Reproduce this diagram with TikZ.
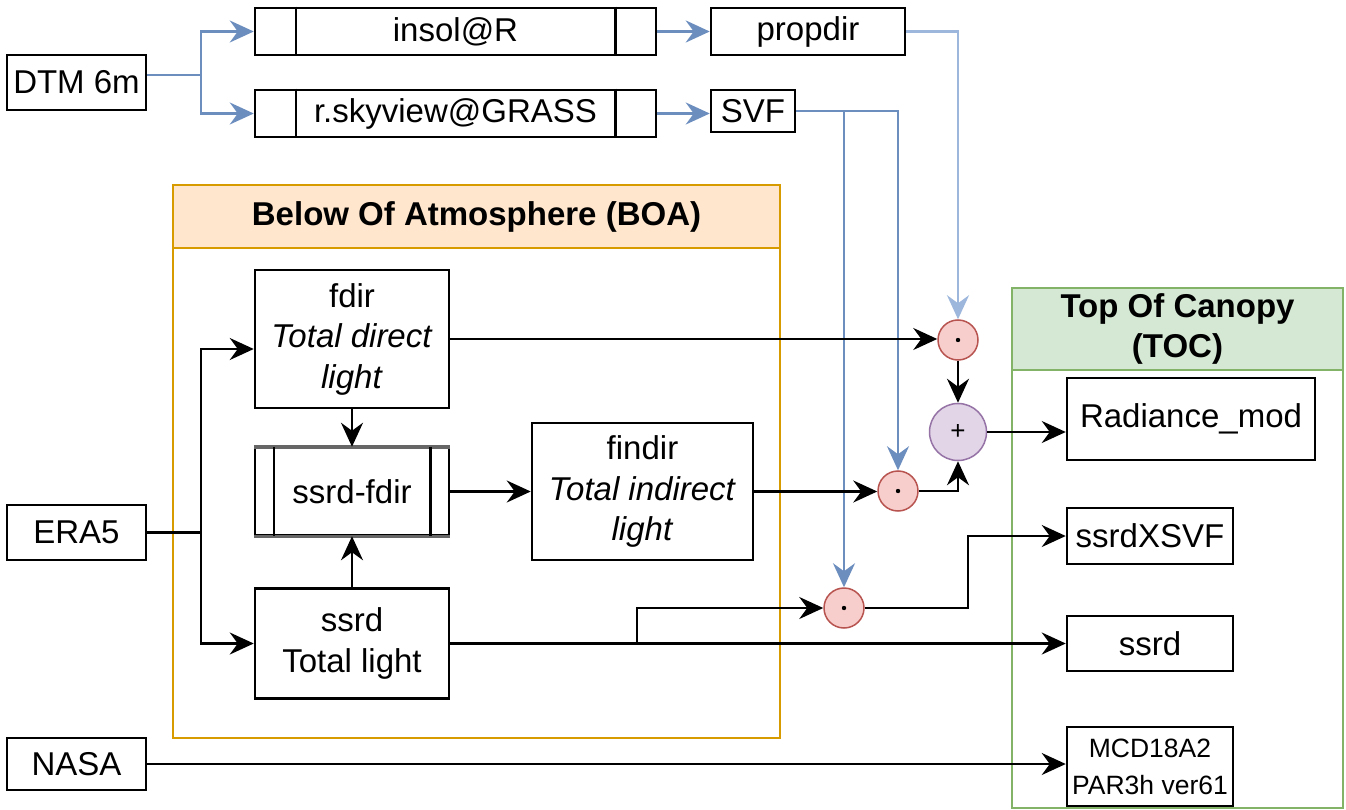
\documentclass[tikz,border=0pt]{standalone}
\usepackage{fontspec}
\setmainfont{Liberation Sans}
\usetikzlibrary{arrows.meta,calc}
\definecolor{blueA}{HTML}{6C8EBF}
\definecolor{blueL}{HTML}{9DB7DC}
\definecolor{orB}{HTML}{D79B00}
\definecolor{orF}{HTML}{FFE6CC}
\definecolor{grB}{HTML}{82B366}
\definecolor{grF}{HTML}{D5E8D4}
\definecolor{rdB}{HTML}{B85450}
\definecolor{rdF}{HTML}{F8CECC}
\definecolor{puB}{HTML}{9673A6}
\definecolor{puF}{HTML}{E1D5E7}
\tikzset{
  box/.style={draw=black, line width=2.5pt, fill=white, inner sep=0pt, align=center,
    font=\fontsize{33}{40.5}\selectfont},
  head/.style={line width=2.5pt, inner sep=0pt, align=center,
    font=\fontsize{33}{40}\selectfont\bfseries},
  tipb/.style={-{Stealth[length=24pt,width=22pt,inset=8pt]}},
  arr/.style={line width=2.2pt, draw=black, tipb},
  barr/.style={line width=2.2pt, draw=blueA, tipb},
  barrthick/.style={line width=3.2pt, draw=blueA, tipb},
  barrlight/.style={line width=2.2pt, draw=blueL, tipb},
  dotc/.style={circle, draw=rdB, fill=rdF, line width=1.5pt, minimum size=40pt, inner sep=0pt},
  plusc/.style={circle, draw=puB, fill=puF, line width=1.5pt, minimum size=57pt, inner sep=0pt,
    font=\fontsize{26}{28}\selectfont},
}
\begin{document}
\begin{tikzpicture}[x=1pt,y=-1pt]
\useasboundingbox (0,0) rectangle (1346,810);
\fill[white] (0,0) rectangle (1346,810);

% containers
\node[draw=orB, line width=2.5pt, minimum width=607pt, minimum height=553pt, inner sep=0pt] (boa) at (476.5,461.5) {};
\node[head, draw=orB, fill=orF, minimum width=607pt, minimum height=63pt] (boahead) at (476.5,216.5) {Below Of Atmosphere (BOA)};
\node[draw=grB, line width=2.5pt, minimum width=331pt, minimum height=520pt, inner sep=0pt] (toc) at (1177.5,548) {};
\node[head, draw=grB, fill=grF, minimum width=331pt, minimum height=82pt] (tochead) at (1177.5,329) {Top Of Canopy\\(TOC)};

% top row
\node[box, minimum width=139pt, minimum height=55pt] (dtm) at (76.5,82.5) {DTM 6m};
\node[box, minimum width=401pt, minimum height=47pt] (insol) at (455.5,31.5) {insol@R};
\node[box, minimum width=401pt, minimum height=47pt] (sky) at (455.5,113.5) {r.skyview@GRASS};
\draw[line width=2.5pt] ([xshift=42pt]insol.north west) -- ([xshift=42pt]insol.south west);
\draw[line width=2.5pt] ([xshift=-42pt]insol.north east) -- ([xshift=-42pt]insol.south east);
\draw[line width=2.5pt] ([xshift=42pt]sky.north west) -- ([xshift=42pt]sky.south west);
\draw[line width=2.5pt] ([xshift=-42pt]sky.north east) -- ([xshift=-42pt]sky.south east);
\node[box, minimum width=194pt, minimum height=47pt] (propdir) at (808,31.5) {propdir};
\node[box, minimum width=84pt, minimum height=42pt] (svf) at (753,111) {SVF};

% BOA content
\node[box, minimum width=194pt, minimum height=138pt] (fdir) at (352,339) {fdir\\\textit{Total direct}\\\textit{light}};
\node[box, minimum width=194pt, minimum height=87pt] (sf) at (352,491.5) {ssrd-fdir};
\draw[line width=3.5pt, black!60] (sf.north west) -- (sf.north east);
\draw[line width=3.5pt, black!60] (sf.south west) -- (sf.south east);
\draw[line width=2.5pt] ([xshift=20pt]sf.north west) -- ([xshift=20pt]sf.south west);
\draw[line width=2.5pt] ([xshift=-20pt]sf.north east) -- ([xshift=-20pt]sf.south east);
\node[box, minimum width=221pt, minimum height=137pt] (findir) at (642.5,491.5) {findir\\\textit{Total indirect}\\\textit{light}};
\node[box, minimum width=194pt, minimum height=110pt] (ssrd) at (352,643.5) {ssrd\\Total light};

% left inputs
\node[box, minimum width=139pt, minimum height=55pt] (era5) at (76.5,532.5) {ERA5};
\node[box, minimum width=139pt, minimum height=52pt] (nasa) at (76.5,764) {NASA};

% TOC content
\node[box, minimum width=248pt, minimum height=82pt] (rad) at (1191,419) {Radiance\_mod};
\node[box, minimum width=166pt, minimum height=56pt] (sx) at (1150,536) {ssrdXSVF};
\node[box, minimum width=166pt, minimum height=55pt] (ssrd2) at (1150,643.5) {ssrd};
\node[box, minimum width=166pt, minimum height=79pt, font=\fontsize{26.5}{37}\selectfont] (mcd) at (1150,766.5) {MCD18A2\\PAR3h ver61};

% operators
\node[dotc] (d1) at (958,340) {};
\node[dotc] (d2) at (898,491) {};
\node[dotc] (d3) at (844,608) {};
\node[plusc] (plus) at (958,432) {+};
\fill (d1) circle (2.2pt);
\fill (d2) circle (2.2pt);
\fill (d3) circle (2.2pt);

% blue connectors
\draw[line width=2.2pt, blueA] ([yshift=7.5pt]dtm.east) -- ++(54,0) coordinate (dsplit);
\draw[barr] (dsplit) |- (insol.west);
\draw[barr] (dsplit) |- (sky.west);
\draw[barrthick] (insol.east) -- (propdir.west);
\draw[barr] (sky.east) -- (sky.east -| svf.west);
\draw[barrlight] (propdir.east) -| (d1.north);
\draw[barr] (svf.east) -| (d2.north);
\draw[barr] (svf.east) -| (d3.north);

% black connectors
\draw[line width=2.2pt] (era5.east) -- ++(54,0) coordinate (esplit);
\draw[arr] (esplit) |- ([yshift=-10pt]fdir.west);
\draw[arr] (esplit) |- (ssrd.west);
\draw[arr] (fdir.east) -- (fdir.east -| d1.west);
\draw[arr] (fdir.south) -- (sf.north);
\draw[arr] (ssrd.north) -- (sf.south);
\draw[arr] (sf.east) -- (findir.west);
\draw[arr] (findir.east) -- (findir.east -| d2.west);
\draw[arr] (d1.south) -- (plus.north);
\draw[arr] (d2.east) -| (plus.south);
\draw[arr] (plus.east) -- (plus.east -| rad.west);
\draw[arr] (ssrd.east) -- (ssrd.east -| ssrd2.west);
\path (ssrd.east) -- ++(187,0) coordinate (br);
\draw[arr] (br) |- (d3.west);
\draw[arr] (d3.east) -- ++(103,0) |- (sx.west);
\draw[arr] (nasa.east) -- (nasa.east -| mcd.west);
\end{tikzpicture}
\end{document}
